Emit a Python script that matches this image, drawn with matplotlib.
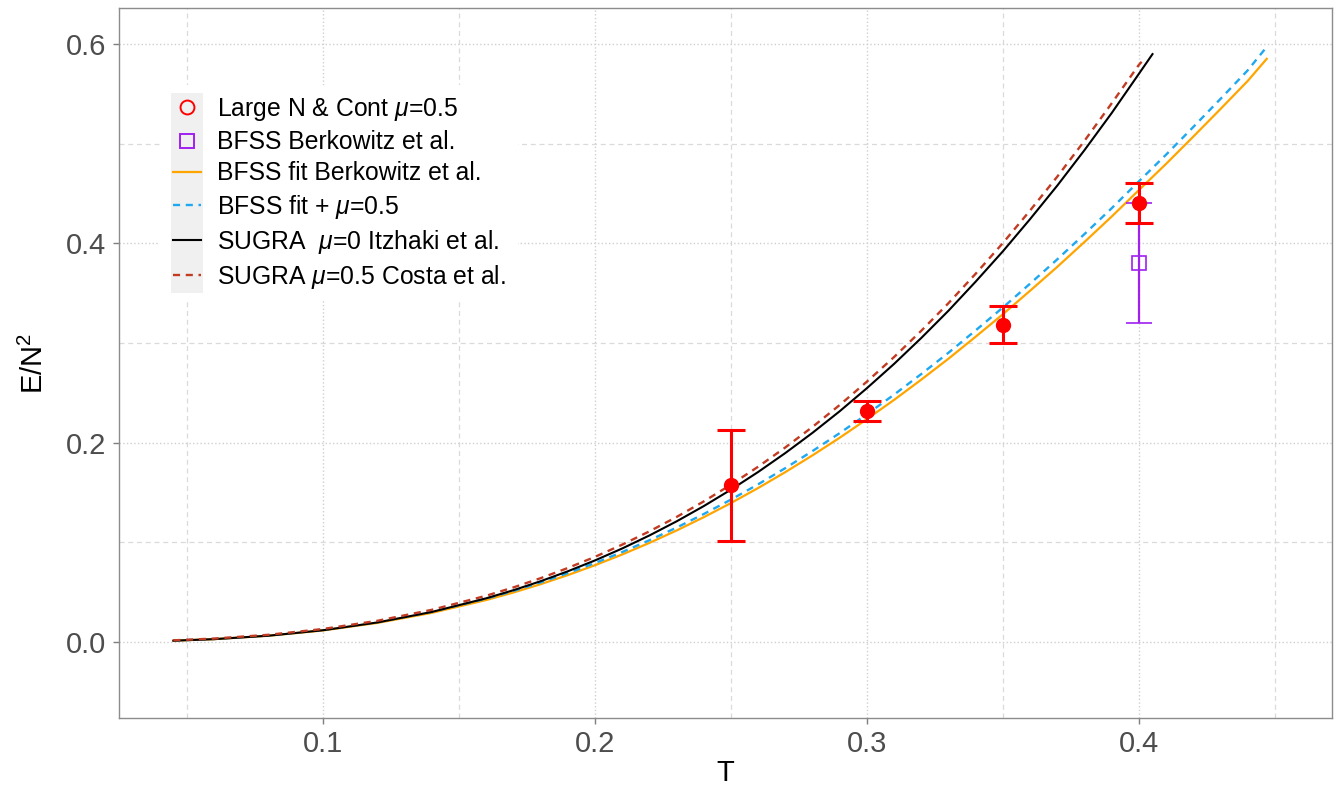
import matplotlib
matplotlib.use("Agg")
import matplotlib.pyplot as plt
from matplotlib.lines import Line2D
from matplotlib.patches import Rectangle

plt.rcParams['font.family'] = ['Liberation Sans', 'DejaVu Sans']
plt.rcParams['mathtext.fontset'] = 'custom'
plt.rcParams['mathtext.rm'] = 'Liberation Sans'
plt.rcParams['mathtext.it'] = 'Liberation Sans:italic'

# lattice points (large N & continuum, mu=0.5)
pts_T = [0.25, 0.30, 0.35, 0.40]
pts_E = [0.157, 0.232, 0.318, 0.440]
pts_lo = [0.101, 0.222, 0.300, 0.420]
pts_hi = [0.213, 0.242, 0.337, 0.460]

# BFSS Berkowitz et al.
bfss_T = [0.40]
bfss_E = [0.380]
bfss_lo = [0.320]
bfss_hi = [0.440]

# curves
T_fit = [0.045, 0.06, 0.08, 0.10, 0.12, 0.14, 0.16, 0.17, 0.18, 0.19, 0.20, 0.21,
         0.22, 0.23, 0.24, 0.25, 0.26, 0.27, 0.28, 0.29, 0.30, 0.31, 0.32, 0.33,
         0.34, 0.35, 0.36, 0.37, 0.38, 0.39, 0.40, 0.41, 0.42, 0.43, 0.44, 0.447]
E_fit = [0.00126, 0.00279, 0.00621, 0.01154, 0.01910, 0.02918, 0.04205, 0.04960,
         0.05794, 0.06705, 0.07697, 0.08773, 0.09934, 0.11180, 0.12515, 0.13935,
         0.15443, 0.17039, 0.18722, 0.20489, 0.22355, 0.24286, 0.26319, 0.28419,
         0.30628, 0.32879, 0.35236, 0.37635, 0.40129, 0.42677, 0.45332, 0.47964,
         0.50694, 0.53466, 0.56280, 0.585]
E_fit_mu = [0.00137, 0.00299, 0.00656, 0.01209, 0.01989, 0.03026, 0.04346, 0.05119,
            0.05972, 0.06904, 0.07917, 0.09016, 0.10200, 0.11471, 0.12832, 0.14279,
            0.15815, 0.17440, 0.19153, 0.20952, 0.22850, 0.24815, 0.26882, 0.29018,
            0.31264, 0.33553, 0.35949, 0.38388, 0.40923, 0.43514, 0.46212, 0.48889,
            0.51664, 0.54483, 0.57345, 0.597]

T_sugra = [0.045, 0.06, 0.08, 0.10, 0.12, 0.14, 0.16, 0.17, 0.18, 0.19, 0.20, 0.21,
           0.22, 0.23, 0.24, 0.25, 0.26, 0.27, 0.28, 0.29, 0.30, 0.31, 0.32, 0.33,
           0.34, 0.35, 0.36, 0.37, 0.38, 0.39, 0.40, 0.405]
E_sugra = [0.00126, 0.00281, 0.00628, 0.01174, 0.01956, 0.03011, 0.04377, 0.05188,
           0.06090, 0.07085, 0.08178, 0.09375, 0.10680, 0.12095, 0.13628, 0.15278,
           0.17051, 0.18953, 0.20983, 0.23148, 0.25461, 0.27899, 0.30500, 0.33235,
           0.36154, 0.39194, 0.42425, 0.45787, 0.49344, 0.53064, 0.57000, 0.58975]

T_costa = [0.045, 0.06, 0.08, 0.10, 0.12, 0.14, 0.16, 0.17, 0.18, 0.19, 0.20, 0.21,
           0.22, 0.23, 0.24, 0.25, 0.26, 0.27, 0.28, 0.29, 0.30, 0.31, 0.32, 0.33,
           0.34, 0.35, 0.36, 0.37, 0.38, 0.39, 0.40, 0.401]
E_costa = [0.00164, 0.00340, 0.00718, 0.01300, 0.02122, 0.03221, 0.04633, 0.05468,
           0.06395, 0.07416, 0.08536, 0.09760, 0.11093, 0.12536, 0.14098, 0.15778,
           0.17581, 0.19514, 0.21576, 0.23773, 0.26118, 0.28589, 0.31224, 0.33993,
           0.36947, 0.40022, 0.43289, 0.46687, 0.50281, 0.54038, 0.5790, 0.5820]

labels = ['Large N & Cont $\\mu$=0.5', 'BFSS Berkowitz et al.', 'BFSS fit Berkowitz et al.',
          'BFSS fit + $\\mu$=0.5', 'SUGRA  $\\mu$=0 Itzhaki et al.', 'SUGRA $\\mu$=0.5 Costa et al.']

c_orange = '#FFA500'
c_blue = '#1FA8F0'
c_brown = '#C23B22'
c_purple = '#A020F0'
dash = (0, (3.0, 2.4))

W, H = 1344, 785
fig = plt.figure(figsize=(W / 100, H / 100), dpi=100)
ax = fig.add_axes([119 / W, 1 - 718 / H, (1332 - 119) / W, (718 - 8) / H])

ax.plot(T_fit, E_fit, color=c_orange, lw=1.6, zorder=2)
ax.plot(T_fit, E_fit_mu, color=c_blue, lw=1.7, ls=dash, zorder=2.1)
ax.plot(T_sugra, E_sugra, color='black', lw=1.5, zorder=2.2)
ax.plot(T_costa, E_costa, color=c_brown, lw=1.7, ls=dash, zorder=2.3)

ax.errorbar(bfss_T, bfss_E,
            yerr=[[e - l for e, l in zip(bfss_E, bfss_lo)], [h - e for e, h in zip(bfss_E, bfss_hi)]],
            fmt='s', ms=10, mfc='none', mec=c_purple, mew=1.2, color=c_purple,
            elinewidth=1.6, capsize=9.5, capthick=1.6, zorder=3)
ax.errorbar(pts_T, pts_E,
            yerr=[[e - l for e, l in zip(pts_E, pts_lo)], [h - e for e, h in zip(pts_E, pts_hi)]],
            fmt='o', ms=10, color='red', elinewidth=2.2, capsize=10, capthick=2.2, zorder=3.5)

ax.set_xlim(0.025, 0.471)
ax.set_ylim(-0.0763, 0.636)
ax.set_xticks([0.1, 0.2, 0.3, 0.4])
ax.set_xticks([0.05, 0.15, 0.25, 0.35, 0.45], minor=True)
ax.set_yticks([0.0, 0.2, 0.4, 0.6])
ax.set_yticks([0.1, 0.3, 0.5], minor=True)
ax.set_yticklabels(['0.0', '0.2', '0.4', '0.6'])
ax.grid(which='major', ls=':', color='#cfcfcf', lw=1.0)
ax.grid(which='minor', ls=(0, (4, 3)), color='#dadada', lw=0.9)
ax.set_axisbelow(True)
ax.tick_params(which='major', length=4, width=1, color='#7f7f7f', labelsize=21,
               labelcolor='#4D4D4D', pad=5)
ax.tick_params(which='minor', length=0)
for s in ax.spines.values():
    s.set_color('#8c8c8c')
    s.set_linewidth(1.0)

ax.set_xlabel('T', fontsize=21, labelpad=0.5)
ax.set_ylabel('E/N$^2$', fontsize=21, labelpad=12)

handles = [
    Line2D([], [], ls='none', marker='o', ms=10, mfc='none', mec='red', mew=1.4),
    Line2D([], [], ls='none', marker='s', ms=9.5, mfc='none', mec=c_purple, mew=1.4),
    Line2D([], [], color=c_orange, lw=1.6),
    Line2D([], [], color=c_blue, lw=1.7, ls=dash),
    Line2D([], [], color='black', lw=1.5),
    Line2D([], [], color=c_brown, lw=1.7, ls=dash),
]
fs = 17.8
hl = 1.15
leg = ax.legend(handles, labels, loc='upper left',
                bbox_to_anchor=((173 - 119) / 1213, (718 - 96) / 710),
                frameon=False, fontsize=fs, borderpad=0, borderaxespad=0,
                handlelength=hl, handletextpad=0.62, labelspacing=0.29)
leg.set_zorder(6)

fig.canvas.draw()
bb = leg.get_window_extent()
inv = ax.transAxes.inverted()
fs_px = fs * 100 / 72
# white legend background and grey key column
x0, y0 = inv.transform((bb.x0 - 13, bb.y0 - 9))
x1, y1 = inv.transform((bb.x1 + 12, bb.y1 + 11))
ax.add_patch(Rectangle((x0, y0), x1 - x0, y1 - y0, transform=ax.transAxes,
                       facecolor='white', edgecolor='none', zorder=4.5))
gx0, gy0 = inv.transform((bb.x0 - 2, bb.y0 - 2))
gx1, gy1 = inv.transform((bb.x0 + hl * fs_px + 2, bb.y1 + 3))
ax.add_patch(Rectangle((gx0, gy0), gx1 - gx0, gy1 - gy0, transform=ax.transAxes,
                       facecolor='#F0F0F0', edgecolor='none', zorder=4.8))

fig.savefig('out.png', dpi=100)
